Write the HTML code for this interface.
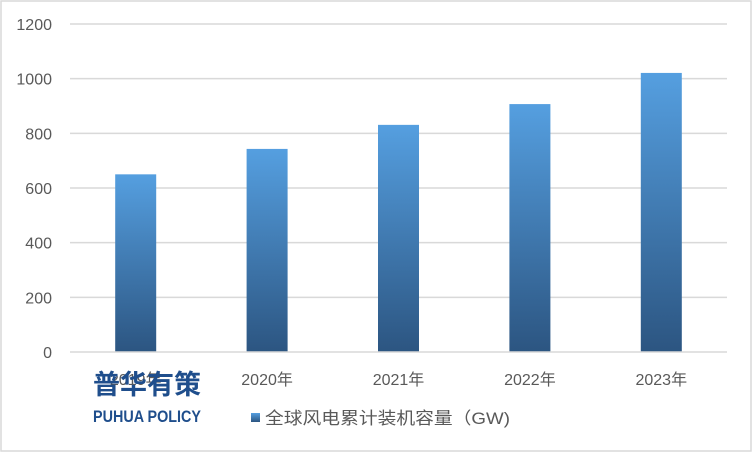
<!DOCTYPE html>
<html><head><meta charset="utf-8"><style>
body{margin:0;background:#fff}
svg{display:block;font-family:"Liberation Sans","Noto Sans CJK SC",sans-serif}
</style></head><body>
<svg id="c" width="752" height="452">
<defs><linearGradient id="g" x1="0" y1="0" x2="0" y2="1">
<stop offset="0" stop-color="#559fe0"/><stop offset="1" stop-color="#2c5581"/></linearGradient></defs>
<rect x="1" y="1" width="750" height="450" fill="#fff" stroke="#d9d9d9" stroke-width="1.5"/>
<g id="grid"></g><g id="bars"></g><g id="xl"></g>
<line x1="70" y1="352" x2="727" y2="352" stroke="#d9d9d9" stroke-width="1.5"/>
<rect x="251" y="413" width="9" height="9" fill="url(#g)"/>
<text x="265" y="424" font-size="17" fill="#595959" textLength="245" lengthAdjust="spacingAndGlyphs">全球风电累计装机容量（GW)</text>
<text x="93" y="394" font-size="27" font-weight="bold" fill="#1f4e8c" font-family="'Noto Sans CJK SC',sans-serif">普华有策</text>
<text x="93" y="422" font-size="17" font-weight="bold" fill="#1f4e8c" textLength="108" lengthAdjust="spacingAndGlyphs">PUHUA POLICY</text>
</svg>
<script>
const categories=["2019年","2020年","2021年","2022年","2023年"];
const values=[650,743,831,907,1021];
const ticks=[0,200,400,600,800,1000,1200];
const NS="http://www.w3.org/2000/svg";
const x0=70,x1=727,y0=352,y1=24,max=1200;
const bw=(x1-x0)/categories.length;
const y=v=>y0-(v/max)*(y0-y1);
const xc=i=>x0+bw*(i+0.5);
function mk(t,a,p){const e=document.createElementNS(NS,t);for(const k in a)e.setAttribute(k,a[k]);p.appendChild(e);return e;}
const grid=document.getElementById('grid');
ticks.forEach(t=>{
 if(t>0){const l=mk('line',{x1:x0,x2:x1,y1:y(t),y2:y(t),stroke:'#d9d9d9','stroke-width':1.5},grid);
 
 }
 const tx=mk('text',{x:52,y:y(t)+6,'font-size':16,fill:'#595959','text-anchor':'end'},grid);tx.textContent=t;
 
 
});
const bars=document.getElementById('bars'),xl=document.getElementById('xl');
values.forEach((v,i)=>{
 const r=mk('rect',{x:xc(i)-20.5,y:y(v),width:41,height:y0-y(v),fill:'url(#g)'},bars);
 
 
 const t=mk('text',{x:xc(i),y:385,'font-size':16,fill:'#595959','text-anchor':'middle'},xl);t.textContent=categories[i];
 
 
});
</script>
</body></html>
